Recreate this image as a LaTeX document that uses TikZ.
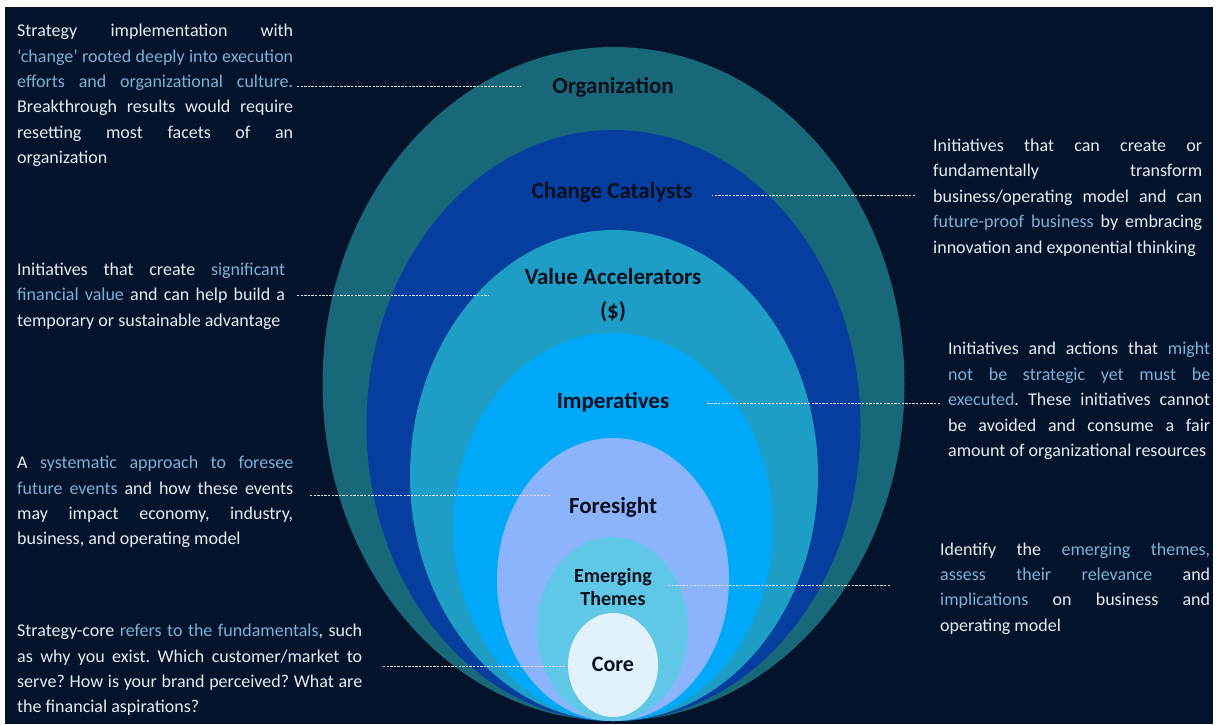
\documentclass[tikz,border=0pt]{standalone}
\usepackage{fontspec}
\setmainfont{Carlito}
\usepackage{tikz}
\frenchspacing
\definecolor{nacht}{RGB}{4,19,44}
\definecolor{orgcol}{RGB}{24,104,122}
\definecolor{catcol}{RGB}{6,62,160}
\definecolor{valcol}{RGB}{30,158,198}
\definecolor{impcol}{RGB}{0,168,250}
\definecolor{forecol}{RGB}{140,180,252}
\definecolor{emcol}{RGB}{96,200,230}
\definecolor{corecol}{RGB}{226,242,252}
\definecolor{labelink}{RGB}{8,16,30}
\definecolor{infotext}{RGB}{232,236,240}
\definecolor{infoblue}{RGB}{122,178,214}
\tikzset{
  %Define style for ring labels
  ringlabel/.style={
    font=\fontsize{23}{26}\selectfont\bfseries,
    text=labelink,
    align=center,
    inner sep=2pt},
  %Define style for side texts
  info/.style={
    anchor=west,
    inner sep=0pt,
    align=justify,
    font=\fontsize{18}{25.4}\selectfont,
    text=infotext},
  % Define leader style
  leader/.style={
    draw=white!85!nacht,
    line width=1pt,
    dash pattern=on 2.4pt off 1.2pt}
}
\newcommand{\hilite}[1]{\textcolor{infoblue}{#1}}

\begin{document}
\begin{tikzpicture}[x=1pt,y=-1pt]
      \useasboundingbox (0,0) rectangle (1216,724);
      \fill[white] (0,0) rectangle (1216,724);
      \fill[nacht] (5,7) rectangle (1213,724);
      % rings
      \fill[orgcol] (613.5,384) ellipse [x radius=291pt, y radius=337pt];
      \fill[catcol] (613.5,425.5) ellipse [x radius=247pt, y radius=295.5pt];
      \fill[valcol] (614,475.5) ellipse [x radius=204pt, y radius=245.5pt];
      \fill[impcol] (613,527) ellipse [x radius=160pt, y radius=194pt];
      \fill[forecol] (613,579.5) ellipse [x radius=116pt, y radius=141.5pt];
      \fill[emcol] (612.5,629) ellipse [x radius=75.5pt, y radius=92pt];
      \fill[corecol] (613,665) ellipse [x radius=45pt, y radius=52pt];
      % labels
      \node[ringlabel] (org) at (613,87) {Organization};
      \node[ringlabel] (cat) at (612,192) {Change Catalysts};
      \node[ringlabel] (val) at (613,295) {Value Accelerators\\[8pt](\$)};
      \node[ringlabel] (imp) at (613,402) {Imperatives};
      \node[ringlabel] (fore) at (613,507) {Foresight};
      \node[ringlabel, font=\fontsize{20}{23}\selectfont\bfseries] (em) at (613,587) {Emerging\\Themes};
      \node[ringlabel, font=\fontsize{22}{25}\selectfont\bfseries] (core) at (613,664) {Core};
      % side texts
      \node[info, text width=276pt] (orgtxt) at (17,95.5)
        {Strategy implementation with\linebreak \hilite{‘change’ rooted deeply into execution\linebreak efforts and organizational culture.}\linebreak Breakthrough results would require\linebreak resetting most facets of an\linebreak organization};
      \node[info, text width=268pt] (valtxt) at (17,296)
        {Initiatives that create \hilite{significant\linebreak financial value} and can help build a\linebreak temporary or sustainable advantage};
      \node[info, text width=276pt] (foretxt) at (17,502)
        {A \hilite{systematic approach to foresee\linebreak future events} and how these events\linebreak may impact economy, industry,\linebreak business, and operating model};
      \node[info, text width=345pt] (coretxt) at (17,670)
        {Strategy-core \hilite{refers to the fundamentals}, such\linebreak as why you exist. Which customer/market to\linebreak serve? How is your brand perceived? What are\linebreak the financial aspirations?};
      \node[info, text width=269pt] (cattxt) at (933,197.5)
        {Initiatives that can create or\linebreak fundamentally transform\linebreak business/operating model and can\linebreak \hilite{future-proof business} by embracing\linebreak innovation and exponential thinking};
      \node[info, text width=262pt] (imptxt) at (948,401)
        {Initiatives and actions that \hilite{might\linebreak not be strategic yet must be\linebreak executed}. These initiatives cannot\linebreak be avoided and consume a fair\linebreak amount of organizational resources};
      \node[info, text width=270pt] (emtxt) at (940,588.5)
        {Identify the \hilite{emerging themes,\linebreak assess their relevance} and\linebreak \hilite{implications} on business and\linebreak operating model};
      % leaders
      \coordinate (orgtip) at (297,86);
      \coordinate (cattip) at (915,195);
      \coordinate (valtip) at (297,295);
      \coordinate (imptip) at (940,403);
      \coordinate (foretip) at (310,495);
      \coordinate (emtip) at (890,585);
      \coordinate (coretip) at (383,666);
      \draw[leader, shorten >=29pt] (orgtip) -- (org.west |- orgtip);
      \draw[leader, shorten >=18pt] (cattip) -- (cat.east |- cattip);
      \draw[leader, shorten >=34pt] (valtip) -- (val.west |- valtip);
      \draw[leader, shorten >=35pt] (imptip) -- (imp.east |- imptip);
      \draw[leader, shorten >=16pt] (foretip) -- (fore.west |- foretip);
      \draw[leader, shorten >=13pt] (emtip) -- (em.east |- emtip);
      \draw[leader, shorten >=24pt] (coretip) -- (core.west |- coretip);
    \end{tikzpicture}
\end{document}
